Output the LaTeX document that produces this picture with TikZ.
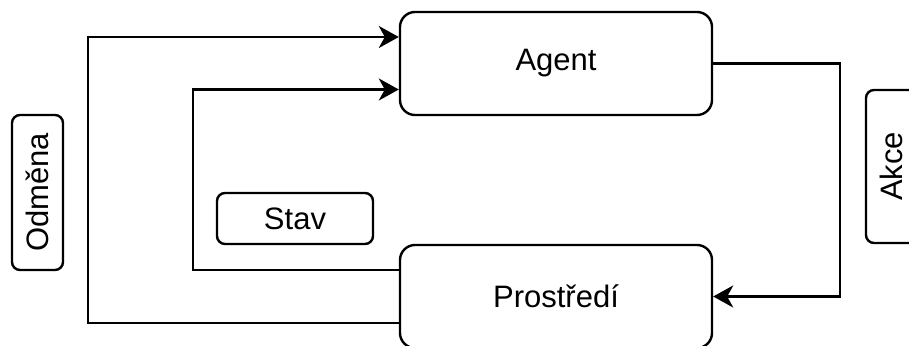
\documentclass[tikz,border=0pt]{standalone}
\usepackage{fontspec}
\setmainfont{Liberation Sans}
\usetikzlibrary{arrows.meta,calc}
\begin{document}
\begin{tikzpicture}[x=1pt,y=-1pt,
  line width=2.4pt,
  bigbox/.style={draw, rounded corners=15pt, minimum width=312pt, minimum height=103pt, font=\fontsize{31}{36}\selectfont, inner sep=0pt},
  tag/.style={draw, rounded corners=8pt, font=\fontsize{31}{36}\selectfont, inner sep=0pt},
  flow/.style={-{Stealth[length=20pt,width=22pt,inset=6pt]}}
]
\useasboundingbox (0,0) rectangle (909,345);
\clip (0,0) rectangle (909,345);

% main blocks
\node[bigbox] (agent) at (556,63.5) {Agent};
\node[bigbox] (env) at (556,296.5) {Prostředí};

% labels of the loop
\node[tag, minimum width=156pt, minimum height=51pt] (stav) at (295,218.5) {Stav};
\node[tag, minimum width=155pt, minimum height=51pt, rotate=90] (odmena) at (37.5,192.5) {Odměna};
\node[tag, minimum width=153pt, minimum height=51pt, rotate=90] (akce) at (891.5,166.5) {Akce};

% rails of the connectors
\coordinate (outer) at (88,0);
\coordinate (inner) at (193,0);
\coordinate (right) at (840,0);

% ends on the blocks (yshift is measured upwards)
\coordinate (aIn1) at ([yshift=26.5pt]agent.west);
\coordinate (aIn2) at ([yshift=-26pt]agent.west);
\coordinate (eOut1) at ([yshift=-26.5pt]env.west);
\coordinate (eOut2) at ([yshift=26.5pt]env.west);

% reward loop (outer)
\draw[flow] (eOut1) -- (eOut1 -| outer) -- (aIn1 -| outer) -- (aIn1);
% state loop (inner)
\draw[flow] (eOut2) -- (eOut2 -| inner) -- (aIn2 -| inner) -- (aIn2);
% action
\draw[flow] (agent.east) -- (agent.east -| right) -- (env.east -| right) -- (env.east);
\end{tikzpicture}
\end{document}
